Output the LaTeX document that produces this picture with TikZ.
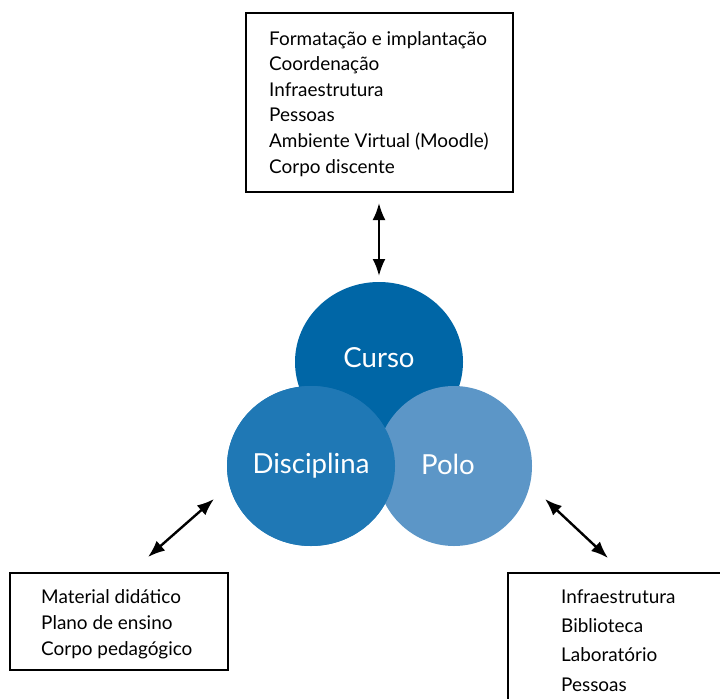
\documentclass[tikz,border=0pt]{standalone}
\usepackage{fontspec}
\setmainfont{Lato}
\usepackage{tikz}
\usetikzlibrary{arrows.meta,positioning,shapes.geometric}

\definecolor{cursocol}{rgb}{0.0,0.40,0.65}
\definecolor{disccol}{rgb}{0.12,0.47,0.71}
\definecolor{polocol}{rgb}{0.36,0.59,0.78}

\tikzset{
  circ/.style={ellipse, minimum width=168bp, minimum height=160bp, inner sep=0pt,
    text=white, font=\fontsize{27.7}{32}\selectfont},
  listbox/.style={draw=black, line width=1.6bp, inner sep=0pt},
  listtext/.style={align=left, inner sep=0pt, anchor=base west},
  link/.style={<->, line width=2.4bp, >={Latex[length=17bp,width=13bp]}},
}

\begin{document}
\begin{tikzpicture}[x=1bp,y=-1bp]
  \useasboundingbox (0,0) rectangle (720,699);
%%
  % Node: Curso
  \node[circ, fill=cursocol] (curso) at (379,362) {};
  \node[text=white, font=\fontsize{27.7}{32}\selectfont] (cursolbl) at (379,358) {Curso};
  % Node: Disciplina
  \node[circ, fill=disccol] (disc) at (311,466) {};
  % Node: Polo
  \node[circ, fill=polocol, minimum width=156bp] (polo) at (454,466) {};
  % Disciplina is drawn again over Polo
  \node[circ, fill=disccol] at (311,466) {Disciplina};
  \node[text=white, font=\fontsize{27.7}{32}\selectfont] (pololbl) at (448,464) {Polo};
  % Node: Curso list (base = last line)
  \node[listbox, minimum width=267bp, minimum height=179bp] (cursobox) at (379.5,102.5) {};
  \node[listtext, font=\fontsize{19}{25.6}\selectfont] (cursotxt) at (269,173) {%
    Formatação e implantação\\
    Coordenação\\
    Infraestrutura\\
    Pessoas\\
    Ambiente Virtual (Moodle)\\
    Corpo discente};
  % Node: Disciplina list
  \node[listbox, minimum width=218bp, minimum height=97bp] (discbox) at (119,621.5) {};
  \node[listtext, font=\fontsize{19}{26.3}\selectfont] (disctxt) at (41,655.5) {%
    Material didático\\
    Plano de ensino\\
    Corpo pedagógico};
  % Node: Polo list
  \node[listbox, minimum width=240bp, minimum height=150bp] (polobox) at (628,648) {};
  \node[listtext, font=\fontsize{19}{29.2}\selectfont] (polotxt) at (561,691) {%
    Infraestrutura\\
    Biblioteca\\
    Laboratório\\
    Pessoas};
  % Edge: Curso list <-> Curso
  \coordinate (cursoA) at (379,203);
  \coordinate (cursoB) at (379,276);
  \draw[link] (cursoA) -- (cursoB);
  % Edge: Disciplina <-> Disciplina list
  \coordinate (discA) at (214,499);
  \coordinate (discB) at (148,557);
  \draw[link] (discA) -- (discB);
  % Edge: Polo <-> Polo list
  \coordinate (poloA) at (545,499);
  \coordinate (poloB) at (608,558);
  \draw[link] (poloA) -- (poloB);
%
\end{tikzpicture}
\end{document}
